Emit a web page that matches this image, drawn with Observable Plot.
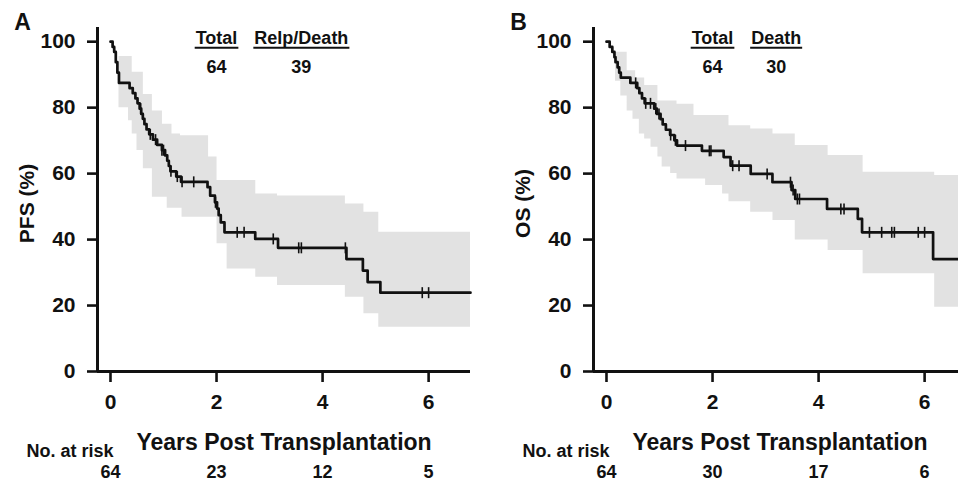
<!DOCTYPE html>
<html><head><meta charset="utf-8">
<script src="https://cdn.jsdelivr.net/npm/d3@7"></script>
<script src="https://cdn.jsdelivr.net/npm/@observablehq/plot@0.6"></script>
<style>
html,body{margin:0;padding:0;background:#fff;overflow:hidden;width:958px;height:487px}
#wrap{position:relative;width:958px;height:487px;overflow:hidden;background:#fff}
.panel{position:absolute;top:0;width:480px;height:487px}
</style></head><body>
<div id="wrap"><div class="panel" id="pA" style="left:0"></div><div class="panel" id="pB" style="left:496px"></div></div>
<script>
// ---------- data ----------
const xTicks = [0, 2, 4, 6];
const yTicks = [0, 20, 40, 60, 80, 100];
const xTitle = "Years Post Transplantation";
const riskLabel = "No. at risk";

// Panel A: PFS
const curveA_t = [0, 0.04, 0.07, 0.10, 0.13, 0.16, 0.36, 0.42, 0.47, 0.51, 0.55, 0.58, 0.61, 0.64, 0.68, 0.73, 0.80, 0.88, 0.97, 1.03, 1.07, 1.10, 1.13, 1.24, 1.33, 1.83, 1.88, 1.97, 2.01, 2.04, 2.08, 2.15, 2.73, 3.16, 4.45, 4.76, 4.85, 5.09, 6.79];
const curveA_s = [100, 98.4, 96.9, 93.8, 90.6, 87.5, 85.9, 84.4, 82.8, 81.3, 79.7, 78.1, 76.6, 75.0, 73.4, 71.9, 70.3, 68.7, 67.1, 65.5, 63.9, 62.3, 60.7, 59.1, 57.5, 55.9, 53.3, 51.3, 49.4, 47.4, 45.2, 42.2, 40.2, 37.5, 34.1, 30.6, 27.1, 23.9, 23.9];
const censA_t = [0.57, 0.75, 0.85, 0.97, 1.0, 1.14, 1.26, 1.35, 1.57, 1.98, 2.39, 2.52, 3.07, 3.55, 3.60, 4.43, 5.88, 6.0];
const bandA_t  = [0.16, 0.34, 0.41, 0.50, 0.62, 0.79, 0.98, 1.07, 1.16, 1.32, 1.35, 1.85, 2.01, 2.20, 2.74, 3.15, 4.43, 4.78, 5.06, 6.79];
const bandA_hi = [95.5, 95.5, 90.7, 90.7, 84.0, 79.0, 75.0, 75.0, 72.0, 71.5, 71.5, 65.0, 57.9, 57.9, 53.8, 53.2, 50.8, 48.3, 42.2, 42.2];
const bandA_lo = [80.0, 76.0, 72.0, 67.0, 61.5, 52.8, 52.8, 49.5, 49.5, 49.5, 46.8, 46.8, 38.7, 31.1, 28.6, 26.1, 22.5, 17.5, 13.4, 13.4];
const riskA = [64, 23, 12, 5];
const headA_labels = ["Total", "Relp/Death"];
const headA_values = ["64", "39"];
const headA_t = [2.0, 3.6];

// Panel B: OS
const curveB_t = [0, 0.06, 0.11, 0.15, 0.17, 0.21, 0.24, 0.27, 0.45, 0.58, 0.62, 0.67, 0.72, 0.90, 0.95, 1.02, 1.06, 1.12, 1.20, 1.28, 1.33, 1.80, 2.21, 2.34, 2.72, 3.13, 3.49, 3.56, 4.16, 4.74, 4.82, 6.16, 6.79];
const curveB_s = [100, 98.4, 96.9, 95.3, 93.8, 92.2, 90.6, 89.1, 87.5, 85.9, 84.4, 82.8, 81.3, 79.7, 78.1, 76.5, 74.9, 73.3, 71.7, 70.1, 68.5, 66.9, 65.0, 62.4, 59.9, 57.4, 55.0, 52.3, 49.3, 46.3, 42.2, 34.1, 34.1];
const censB_t = [0.55, 0.74, 0.83, 0.93, 0.99, 1.21, 1.30, 1.49, 1.94, 1.97, 2.38, 2.50, 3.03, 3.47, 3.52, 3.60, 3.64, 4.42, 4.48, 4.96, 5.19, 5.38, 5.43, 5.88, 6.0];
const bandB_t  = [0.17, 0.27, 0.39, 0.50, 0.55, 0.62, 0.72, 0.84, 0.97, 1.05, 1.21, 1.33, 1.65, 1.87, 2.19, 2.31, 2.72, 3.14, 3.56, 4.18, 4.84, 6.19, 6.79];
const bandB_hi = [96.8, 96.8, 91.2, 91.2, 89.0, 89.0, 86.7, 86.7, 82.0, 82.0, 82.0, 81.0, 77.6, 77.6, 77.6, 74.5, 73.5, 72.0, 68.5, 65.5, 60.4, 59.4, 59.4];
const bandB_lo = [88.0, 83.5, 79.0, 76.5, 76.5, 72.0, 70.5, 68.0, 65.0, 62.0, 60.0, 58.4, 58.4, 56.4, 53.8, 51.5, 48.3, 45.8, 39.9, 36.7, 29.6, 19.5, 19.5];
const riskB = [64, 30, 17, 6];
const headB_labels = ["Total", "Death"];
const headB_values = ["64", "30"];
const headB_t = [2.0, 3.2];

// ---------- helpers ----------
const X_DOMAIN = [-0.245, 6.79];
const Y_DOMAIN = [0, 104.3];
const INK = "#111";
const FONT = "'Liberation Sans', Arial, Helvetica, sans-serif";

const tickSymbol = {
  draw(ctx, size) {
    const h = Math.sqrt(size / Math.PI);
    ctx.moveTo(0, -h);
    ctx.lineTo(0, h);
  }
};

function survAt(ts, ss, t) {
  let s = ss[0];
  for (let i = 0; i < ts.length; i++) if (ts[i] <= t) s = ss[i];
  return s;
}

function panel(cfg) {
  const curve = cfg.ct.map((t, i) => ({t, s: cfg.cs[i]}));
  const band = cfg.bt.map((t, i) => ({t, lo: cfg.blo[i], hi: cfg.bhi[i]}));
  const cens = cfg.cens.map(t => ({t, s: survAt(cfg.ct, cfg.cs, t)}));
  const risk = xTicks.map((t, i) => ({t, n: String(cfg.risk[i])}));
  const heads = cfg.ht.map((t, i) => ({t, label: cfg.hl[i], value: cfg.hv[i]}));
  return Plot.plot({
    width: 480, height: 487,
    marginLeft: 97, marginRight: 10, marginTop: 27, marginBottom: 116,
    style: {fontFamily: FONT, fontWeight: "bold", color: INK, background: "white", overflow: "visible"},
    x: {domain: X_DOMAIN},
    y: {domain: Y_DOMAIN},
    marks: [
      Plot.areaY(band, {x: "t", y1: "lo", y2: "hi", curve: "step-after", fill: "#e2e2e2"}),
      Plot.line(curve, {x: "t", y: "s", curve: "step-after", stroke: INK, strokeWidth: 2.7}),
      Plot.dot(cens, {x: "t", y: "s", symbol: tickSymbol, r: 5.5, stroke: INK, strokeWidth: 1.6, fill: "none"}),
      Plot.ruleX([X_DOMAIN[0]], {stroke: INK, strokeWidth: 3}),
      Plot.ruleY([0], {stroke: INK, strokeWidth: 3}),
      Plot.axisY({ticks: yTicks, tickFormat: d => String(d), tickSize: 10, tickPadding: 12, strokeWidth: 2.6, fontSize: 21, label: null}),
      Plot.axisX({ticks: xTicks, tickFormat: d => String(d), tickSize: 11, tickPadding: 12, strokeWidth: 2.6, fontSize: 21, label: null}),
      Plot.text([cfg.ylabel], {text: d => d, frameAnchor: "left", textAnchor: "middle", lineAnchor: "middle", rotate: -90, dx: -70, dy: 4, fontSize: 21}),
      Plot.text([xTitle], {text: d => d, frameAnchor: "bottom", textAnchor: "middle", lineAnchor: "middle", dy: 71, fontSize: 23}),
      Plot.text([riskLabel], {text: d => d, frameAnchor: "bottom-left", textAnchor: "end", lineAnchor: "middle", dx: 16, dy: 80, fontSize: 18}),
      Plot.text(risk, {x: "t", text: "n", frameAnchor: "bottom", textAnchor: "middle", lineAnchor: "middle", dy: 101, fontSize: 18}),
      Plot.text(heads, {x: "t", text: "label", frameAnchor: "top", textAnchor: "middle", lineAnchor: "middle", dy: 11, fontSize: 18}),
      Plot.text(heads, {x: "t", text: "value", frameAnchor: "top", textAnchor: "middle", lineAnchor: "middle", dy: 40, fontSize: 18}),
      Plot.text([cfg.letter], {text: d => d, frameAnchor: "top-left", textAnchor: "middle", lineAnchor: "middle", dx: -75, dy: -4.5, fontSize: 23})
    ]
  });
}

// underline the header words using their rendered extents
function underlineHeaders(svg, labels) {
  const ns = "http://www.w3.org/2000/svg";
  svg.querySelectorAll("text").forEach(t => {
    if (!labels.includes(t.textContent)) return;
    const b = t.getBBox();
    const ln = document.createElementNS(ns, "line");
    const y = b.y + b.height - 0.5;
    ln.setAttribute("x1", b.x - 1);
    ln.setAttribute("x2", b.x + b.width + 1);
    ln.setAttribute("y1", y);
    ln.setAttribute("y2", y);
    ln.setAttribute("stroke", INK);
    ln.setAttribute("stroke-width", 2.2);
    const tr = t.getAttribute("transform");
    if (tr) ln.setAttribute("transform", tr);
    t.parentNode.appendChild(ln);
  });
}

const svgA = panel({
  letter: "A", ylabel: "PFS (%)",
  ct: curveA_t, cs: curveA_s, cens: censA_t,
  bt: bandA_t, bhi: bandA_hi, blo: bandA_lo,
  risk: riskA, hl: headA_labels, hv: headA_values, ht: headA_t
});
document.getElementById("pA").append(svgA);
underlineHeaders(svgA, headA_labels);

const svgB = panel({
  letter: "B", ylabel: "OS (%)",
  ct: curveB_t, cs: curveB_s, cens: censB_t,
  bt: bandB_t, bhi: bandB_hi, blo: bandB_lo,
  risk: riskB, hl: headB_labels, hv: headB_values, ht: headB_t
});
document.getElementById("pB").append(svgB);
underlineHeaders(svgB, headB_labels);
</script>
</body></html>
